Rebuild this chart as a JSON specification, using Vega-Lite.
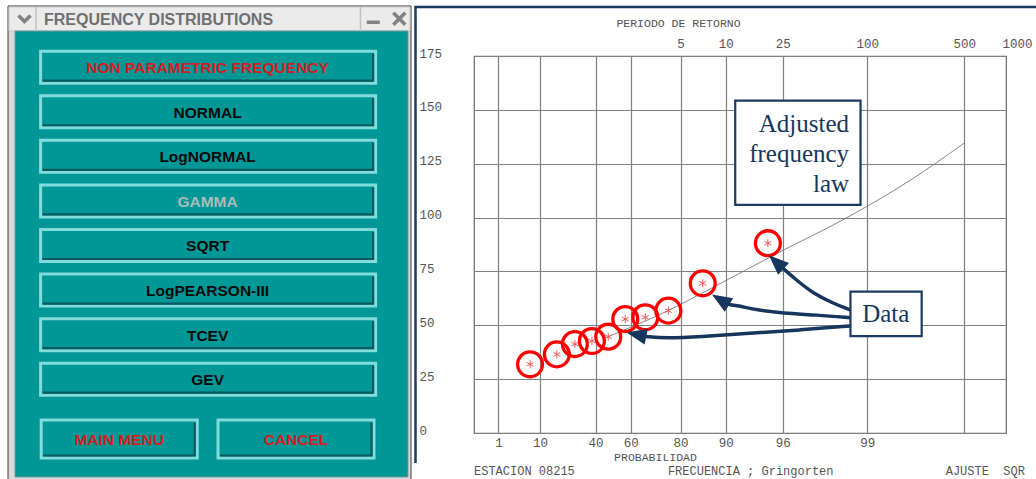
{
  "$schema": "https://vega.github.io/schema/vega-lite/v6.json",
  "width": 532,
  "height": 377,
  "autosize": {"type": "none"},
  "padding": {"left": 474, "top": 56, "right": 30, "bottom": 46},
  "background": "white",
  "config": {"view": {"stroke": "#6a6a6a", "strokeWidth": 1.2}},
  "datasets": {
    "buttons": [
      {"label": "NON PARAMETRIC FREQUENCY", "slot": 1, "column": "wide", "state": "current"},
      {"label": "NORMAL", "slot": 2, "column": "wide", "state": "enabled"},
      {"label": "LogNORMAL", "slot": 3, "column": "wide", "state": "enabled"},
      {"label": "GAMMA", "slot": 4, "column": "wide", "state": "disabled"},
      {"label": "SQRT", "slot": 5, "column": "wide", "state": "enabled"},
      {"label": "LogPEARSON-III", "slot": 6, "column": "wide", "state": "enabled"},
      {"label": "TCEV", "slot": 7, "column": "wide", "state": "enabled"},
      {"label": "GEV", "slot": 8, "column": "wide", "state": "enabled"},
      {"label": "MAIN MENU", "slot": 9, "column": "left", "state": "action"},
      {"label": "CANCEL", "slot": 9, "column": "right", "state": "action"}
    ],
    "observed": [
      {"variate": -1.001, "value": 31.9},
      {"variate": -0.556, "value": 36.5},
      {"variate": -0.256, "value": 41.3},
      {"variate": 0.027, "value": 42.7},
      {"variate": 0.298, "value": 44.7},
      {"variate": 0.581, "value": 52.9},
      {"variate": 0.914, "value": 53.7},
      {"variate": 1.297, "value": 56.8},
      {"variate": 1.868, "value": 69.5},
      {"variate": 2.951, "value": 88.1}
    ],
    "fit": [
      {"variate": 0.2, "value": 43.6},
      {"variate": 1.29, "value": 56.8},
      {"variate": 2.04, "value": 67.6},
      {"variate": 3.09, "value": 83.2},
      {"variate": 4.2, "value": 99.0},
      {"variate": 5.31, "value": 117.2},
      {"variate": 6.21, "value": 134.5}
    ],
    "arrows": [
      {"arrow": "A", "step": 0, "variate": 4.323, "value": 57.1},
      {"arrow": "A", "step": 1, "variate": 4.033, "value": 60.2},
      {"arrow": "A", "step": 2, "variate": 3.7, "value": 64.9},
      {"arrow": "A", "step": 3, "variate": 3.424, "value": 71.0},
      {"arrow": "A", "step": 4, "variate": 3.199, "value": 76.5},
      {"arrow": "B", "step": 0, "variate": 4.323, "value": 53.5},
      {"arrow": "B", "step": 1, "variate": 3.757, "value": 54.8},
      {"arrow": "B", "step": 2, "variate": 3.201, "value": 55.6},
      {"arrow": "B", "step": 3, "variate": 2.758, "value": 57.1},
      {"arrow": "B", "step": 4, "variate": 2.48, "value": 59.0},
      {"arrow": "B", "step": 5, "variate": 2.29, "value": 59.7},
      {"arrow": "C", "step": 0, "variate": 4.323, "value": 49.7},
      {"arrow": "C", "step": 1, "variate": 3.479, "value": 47.8},
      {"arrow": "C", "step": 2, "variate": 2.646, "value": 46.3},
      {"arrow": "C", "step": 3, "variate": 1.814, "value": 44.7},
      {"arrow": "C", "step": 4, "variate": 1.259, "value": 44.0},
      {"arrow": "C", "step": 5, "variate": 0.913, "value": 44.8}
    ]
  },
  "layer": [
    {
      "data": {"name": "fit"},
      "mark": {"type": "point", "opacity": 0},
      "encoding": {
        "x": {"field": "variate", "type": "quantitative", "scale": {"domain": [-1.9326, 6.9073], "nice": false, "zero": false},
          "axis": {"orient": "bottom", "values": [-1.5272, -0.834, 0.0874, 0.6717, 1.4999, 2.2504, 3.1985, 4.6001, 6.2136],
            "labelExpr": "datum.value < -1.2 ? '1' : datum.value < -0.5 ? '10' : datum.value < 0.3 ? '40' : datum.value < 1 ? '60' : datum.value < 2 ? '80' : datum.value < 3 ? '90' : datum.value < 4 ? '96' : datum.value < 5 ? '99' : ''",
            "grid": true, "gridColor": "#808080", "gridWidth": 1.2, "gridOpacity": 1, "ticks": false, "tickSize": 0, "domain": false,
            "labelFont": "Liberation Mono", "labelFontSize": 12.5, "labelColor": "#555555", "labelBaseline": "top", "labelPadding": 3.5,
            "labelFlush": false, "labelOverlap": false, "labelBound": false,
            "title": "PROBABILIDAD", "titleFont": "Liberation Mono", "titleFontSize": 11.5, "titleFontWeight": "normal", "titleColor": "#555555",
            "titleX": 181, "titleY": 24, "titleBaseline": "middle", "titleAlign": "center"}},
        "y": {"field": "value", "type": "quantitative", "scale": {"domain": [0, 175], "nice": false, "zero": false},
          "axis": {"orient": "left", "values": [0, 25, 50, 75, 100, 125, 150, 175], "grid": true, "gridColor": "#808080", "gridWidth": 1.2, "gridOpacity": 1,
            "ticks": false, "tickSize": 0, "domain": false, "labelFont": "Liberation Mono", "labelFontSize": 12.5, "labelColor": "#555555",
            "labelAlign": "left", "labelBaseline": "middle", "labelPadding": 55, "labelOffset": -3, "labelOverlap": false, "labelBound": false, "labelFlush": false, "title": null}}
      }
    },
    {
      "data": {"name": "fit"},
      "mark": {"type": "point", "opacity": 0},
      "encoding": {
        "x": {"field": "variate", "type": "quantitative", "scale": {"domain": [-1.9326, 6.9073], "nice": false, "zero": false},
          "axis": {"orient": "top", "values": [1.4999, 2.2504, 3.1985, 4.6001, 6.2136, 6.9073],
            "labelExpr": "datum.value < 2 ? '5' : datum.value < 3 ? '10' : datum.value < 4 ? '25' : datum.value < 5 ? '100' : datum.value < 6.5 ? '500' : '1000'",
            "grid": false, "ticks": false, "tickSize": 0, "domain": false,
            "labelFont": "Liberation Mono", "labelFontSize": 12.5, "labelColor": "#555555", "labelBaseline": "bottom", "labelPadding": 6,
            "labelFlush": false, "labelOverlap": false, "labelBound": false,
            "labelOffset": {"condition": {"test": "datum.value > 6.5", "value": 11}, "value": 0},
            "title": "PERIODO DE RETORNO", "titleFont": "Liberation Mono", "titleFontSize": 11.5, "titleFontWeight": "normal", "titleColor": "#555555",
            "titleX": 204, "titleY": -33, "titleBaseline": "middle", "titleAlign": "center"}},
        "y": {"field": "value", "type": "quantitative", "scale": {"domain": [0, 175], "nice": false, "zero": false}, "axis": null}
      }
    },
    {
      "layer": [
        {
          "data": {"values": [{"part": "window frame"}]},
          "mark": {"type": "point", "shape": "M-199.6,-61.2H203.4V418.8H-199.6Z", "size": 4, "filled": true, "fill": "#dadada", "stroke": "#3c3c3c", "strokeWidth": 1, "opacity": 1},
          "encoding": {
            "x": {"datum": "wide", "type": "nominal", "scale": {"type": "point", "domain": ["left", "wide", "right"], "range": [-354.8, -178], "padding": 0}, "axis": null},
            "y": {"datum": 1, "type": "quantitative", "scale": {"type": "linear", "domain": [1, 8, 9], "range": [11.2, 323.2, 383], "zero": false, "nice": false}, "axis": null}
          }
        },
        {
          "data": {"values": [{"part": "title bar"}]},
          "mark": {"type": "point", "shape": "M-198.6,-60.2H202.4V-36.2H-198.6Z", "size": 4, "filled": true, "fill": "#ebebeb", "stroke": "#c8c8c8", "strokeWidth": 1, "opacity": 1},
          "encoding": {
            "x": {"datum": "wide", "type": "nominal", "scale": {"type": "point", "domain": ["left", "wide", "right"], "range": [-354.8, -178], "padding": 0}, "axis": null},
            "y": {"datum": 1, "type": "quantitative", "scale": {"type": "linear", "domain": [1, 8, 9], "range": [11.2, 323.2, 383], "zero": false, "nice": false}, "axis": null}
          }
        },
        {
          "data": {"values": [{"part": "body"}]},
          "mark": {"type": "point", "shape": "M-192.6,-36.2H200.4V409.8H-192.6Z", "size": 4, "filled": true, "fill": "#009797", "stroke": "#7a9a9a", "strokeWidth": 1, "opacity": 1},
          "encoding": {
            "x": {"datum": "wide", "type": "nominal", "scale": {"type": "point", "domain": ["left", "wide", "right"], "range": [-354.8, -178], "padding": 0}, "axis": null},
            "y": {"datum": 1, "type": "quantitative", "scale": {"type": "linear", "domain": [1, 8, 9], "range": [11.2, 323.2, 383], "zero": false, "nice": false}, "axis": null}
          }
        },
        {
          "data": {"values": [{"part": "title separators"}]},
          "mark": {"type": "point", "shape": "M-171.6,-60.2V-36.2M152.9,-60.2V-36.2", "size": 4, "filled": false, "color": "#c2c2c2", "strokeWidth": 1.5, "opacity": 1},
          "encoding": {
            "x": {"datum": "wide", "type": "nominal", "scale": {"type": "point", "domain": ["left", "wide", "right"], "range": [-354.8, -178], "padding": 0}, "axis": null},
            "y": {"datum": 1, "type": "quantitative", "scale": {"type": "linear", "domain": [1, 8, 9], "range": [11.2, 323.2, 383], "zero": false, "nice": false}, "axis": null}
          }
        },
        {
          "data": {"values": [{"part": "title icons"}]},
          "mark": {"type": "point", "shape": "M-189.1,-51.8L-183.1,-45.8L-177.1,-51.8M159.2,-44.9H172.2M185.7,-54.4L197.7,-42.4M197.7,-54.4L185.7,-42.4", "size": 4, "filled": false, "color": "#828282", "strokeWidth": 3.6, "opacity": 1},
          "encoding": {
            "x": {"datum": "wide", "type": "nominal", "scale": {"type": "point", "domain": ["left", "wide", "right"], "range": [-354.8, -178], "padding": 0}, "axis": null},
            "y": {"datum": 1, "type": "quantitative", "scale": {"type": "linear", "domain": [1, 8, 9], "range": [11.2, 323.2, 383], "zero": false, "nice": false}, "axis": null}
          }
        },
        {
          "data": {"values": [{"part": "title"}]},
          "mark": {"type": "text", "text": "FREQUENCY DISTRIBUTIONS", "font": "Liberation Sans", "fontWeight": "bold", "fontSize": 16, "color": "#707070", "align": "left", "baseline": "alphabetic", "dx": -163.6, "dy": -42.2},
          "encoding": {
            "x": {"datum": "wide", "type": "nominal", "scale": {"type": "point", "domain": ["left", "wide", "right"], "range": [-354.8, -178], "padding": 0}, "axis": null},
            "y": {"datum": 1, "type": "quantitative", "scale": {"type": "linear", "domain": [1, 8, 9], "range": [11.2, 323.2, 383], "zero": false, "nice": false}, "axis": null}
          }
        },
        {
          "data": {"values": [{"part": "chart frame"}]},
          "mark": {"type": "point", "shape": "M207.9,395.8V-60.2H832.4", "size": 4, "filled": false, "color": "#1b3a66", "strokeWidth": 2.5, "opacity": 1},
          "encoding": {
            "x": {"datum": "wide", "type": "nominal", "scale": {"type": "point", "domain": ["left", "wide", "right"], "range": [-354.8, -178], "padding": 0}, "axis": null},
            "y": {"datum": 1, "type": "quantitative", "scale": {"type": "linear", "domain": [1, 8, 9], "range": [11.2, 323.2, 383], "zero": false, "nice": false}, "axis": null}
          }
        },
        {
          "data": {"name": "buttons"},
          "transform": [{"filter": "datum.column === 'wide'"}],
          "mark": {"type": "point", "shape": "M-167,-16H168V16H-167Z", "size": 4, "filled": true, "fill": "#009797", "stroke": "#82dcdc", "strokeWidth": 3, "opacity": 1},
          "encoding": {
            "x": {"field": "column", "type": "nominal", "scale": {"type": "point", "domain": ["left", "wide", "right"], "range": [-354.8, -178], "padding": 0}, "axis": null},
            "y": {"field": "slot", "type": "quantitative", "scale": {"type": "linear", "domain": [1, 8, 9], "range": [11.2, 323.2, 383], "zero": false, "nice": false}, "axis": null}
          }
        },
        {
          "data": {"name": "buttons"},
          "transform": [{"filter": "datum.column === 'wide'"}],
          "mark": {"type": "point", "shape": "M-165,13.5H165.5V-13.5", "size": 4, "filled": false, "color": "#045c5e", "strokeWidth": 2.2, "opacity": 1},
          "encoding": {
            "x": {"field": "column", "type": "nominal", "scale": {"type": "point", "domain": ["left", "wide", "right"], "range": [-354.8, -178], "padding": 0}, "axis": null},
            "y": {"field": "slot", "type": "quantitative", "scale": {"type": "linear", "domain": [1, 8, 9], "range": [11.2, 323.2, 383], "zero": false, "nice": false}, "axis": null}
          }
        },
        {
          "data": {"name": "buttons"},
          "transform": [{"filter": "datum.column !== 'wide'"}],
          "mark": {"type": "point", "shape": "M-78,-19H78V19H-78Z", "size": 4, "filled": true, "fill": "#009797", "stroke": "#82dcdc", "strokeWidth": 3, "opacity": 1},
          "encoding": {
            "x": {"field": "column", "type": "nominal", "scale": {"type": "point", "domain": ["left", "wide", "right"], "range": [-354.8, -178], "padding": 0}, "axis": null},
            "y": {"field": "slot", "type": "quantitative", "scale": {"type": "linear", "domain": [1, 8, 9], "range": [11.2, 323.2, 383], "zero": false, "nice": false}, "axis": null}
          }
        },
        {
          "data": {"name": "buttons"},
          "transform": [{"filter": "datum.column !== 'wide'"}],
          "mark": {"type": "point", "shape": "M-76,16.5H75.5V-16.5", "size": 4, "filled": false, "color": "#045c5e", "strokeWidth": 2.2, "opacity": 1},
          "encoding": {
            "x": {"field": "column", "type": "nominal", "scale": {"type": "point", "domain": ["left", "wide", "right"], "range": [-354.8, -178], "padding": 0}, "axis": null},
            "y": {"field": "slot", "type": "quantitative", "scale": {"type": "linear", "domain": [1, 8, 9], "range": [11.2, 323.2, 383], "zero": false, "nice": false}, "axis": null}
          }
        },
        {
          "data": {"name": "buttons"},
          "mark": {"type": "text", "font": "Liberation Sans", "fontWeight": "bold", "fontSize": 15.5, "baseline": "middle", "align": "center", "dy": 1},
          "encoding": {
            "x": {"field": "column", "type": "nominal", "scale": {"type": "point", "domain": ["left", "wide", "right"], "range": [-354.8, -178], "padding": 0}, "axis": null},
            "y": {"field": "slot", "type": "quantitative", "scale": {"type": "linear", "domain": [1, 8, 9], "range": [11.2, 323.2, 383], "zero": false, "nice": false}, "axis": null},
            "text": {"field": "label"},
            "color": {"field": "state", "type": "nominal", "scale": {"domain": ["current", "enabled", "disabled", "action"], "range": ["#d21d22", "#0a0a0a", "#a6bcbc", "#d21d22"]}, "legend": null}
          }
        }
      ]
    },
    {
      "layer": [
        {
          "data": {"name": "fit"},
          "mark": {"type": "line", "color": "#7a7a7a", "strokeWidth": 0.9, "interpolate": "monotone"},
          "encoding": {
            "x": {"field": "variate", "type": "quantitative", "scale": {"domain": [-1.9326, 6.9073], "nice": false, "zero": false}, "axis": null},
            "y": {"field": "value", "type": "quantitative", "scale": {"domain": [0, 175], "nice": false, "zero": false}, "axis": null}
          }
        },
        {
          "data": {"name": "observed"},
          "mark": {"type": "point", "shape": "circle", "size": 620, "filled": false, "color": "#ff0000", "strokeWidth": 3.3, "opacity": 1},
          "encoding": {
            "x": {"field": "variate", "type": "quantitative", "scale": {"domain": [-1.9326, 6.9073], "nice": false, "zero": false}, "axis": null},
            "y": {"field": "value", "type": "quantitative", "scale": {"domain": [0, 175], "nice": false, "zero": false}, "axis": null}
          }
        },
        {
          "data": {"name": "observed"},
          "mark": {"type": "point", "shape": "M0,-4V4M-3.5,-2L3.5,2M-3.5,2L3.5,-2", "size": 4, "filled": false, "color": "#f05a5a", "strokeWidth": 1, "opacity": 1},
          "encoding": {
            "x": {"field": "variate", "type": "quantitative", "scale": {"domain": [-1.9326, 6.9073], "nice": false, "zero": false}, "axis": null},
            "y": {"field": "value", "type": "quantitative", "scale": {"domain": [0, 175], "nice": false, "zero": false}, "axis": null}
          }
        },
        {
          "data": {"name": "arrows"},
          "mark": {"type": "line", "color": "#17365d", "strokeWidth": 3.5, "interpolate": "basis", "strokeCap": "round"},
          "encoding": {
            "x": {"field": "variate", "type": "quantitative", "scale": {"domain": [-1.9326, 6.9073], "nice": false, "zero": false}, "axis": null},
            "y": {"field": "value", "type": "quantitative", "scale": {"domain": [0, 175], "nice": false, "zero": false}, "axis": null},
            "detail": {"field": "arrow"},
            "order": {"field": "step", "type": "quantitative"}
          }
        },
        {
          "data": {"values": [{"annotation": "arrowhead A"}]},
          "mark": {"type": "point", "shape": "M0,-11L-8,9L8,9Z", "size": 4, "filled": true, "color": "#17365d", "angle": 312.7, "opacity": 1},
          "encoding": {
            "x": {"datum": 3.101, "type": "quantitative", "scale": {"domain": [-1.9326, 6.9073], "nice": false, "zero": false}, "axis": null},
            "y": {"datum": 79.0, "type": "quantitative", "scale": {"domain": [0, 175], "nice": false, "zero": false}, "axis": null}
          }
        },
        {
          "data": {"values": [{"annotation": "arrowhead B"}]},
          "mark": {"type": "point", "shape": "M0,-11L-8,9L8,9Z", "size": 4, "filled": true, "color": "#17365d", "angle": 301.9, "opacity": 1},
          "encoding": {
            "x": {"datum": 2.177, "type": "quantitative", "scale": {"domain": [-1.9326, 6.9073], "nice": false, "zero": false}, "axis": null},
            "y": {"datum": 61.6, "type": "quantitative", "scale": {"domain": [0, 175], "nice": false, "zero": false}, "axis": null}
          }
        },
        {
          "data": {"values": [{"annotation": "arrowhead C"}]},
          "mark": {"type": "point", "shape": "M0,-11L-8,9L8,9Z", "size": 4, "filled": true, "color": "#17365d", "angle": 282, "opacity": 1},
          "encoding": {
            "x": {"datum": 0.783, "type": "quantitative", "scale": {"domain": [-1.9326, 6.9073], "nice": false, "zero": false}, "axis": null},
            "y": {"datum": 45.6, "type": "quantitative", "scale": {"domain": [0, 175], "nice": false, "zero": false}, "axis": null}
          }
        },
        {
          "data": {"values": [{"annotation": "fit box"}]},
          "mark": {"type": "rect", "fill": "white", "stroke": "#1b3a66", "strokeWidth": 2.2},
          "encoding": {
            "x": {"datum": 2.408, "type": "quantitative", "scale": {"domain": [-1.9326, 6.9073], "nice": false, "zero": false}, "axis": null},
            "x2": {"datum": 4.49},
            "y": {"datum": 154.3, "type": "quantitative", "scale": {"domain": [0, 175], "nice": false, "zero": false}, "axis": null},
            "y2": {"datum": 105.9}
          }
        },
        {
          "data": {"values": [{"annotation": "fit label"}]},
          "mark": {"type": "text", "text": ["Adjusted", "frequency", "law"], "font": "Liberation Serif", "fontSize": 25, "lineHeight": 30, "align": "right", "baseline": "alphabetic", "color": "#17365d"},
          "encoding": {
            "x": {"datum": 4.3, "type": "quantitative", "scale": {"domain": [-1.9326, 6.9073], "nice": false, "zero": false}, "axis": null},
            "y": {"datum": 139.9, "type": "quantitative", "scale": {"domain": [0, 175], "nice": false, "zero": false}, "axis": null}
          }
        },
        {
          "data": {"values": [{"annotation": "data box"}]},
          "mark": {"type": "rect", "fill": "white", "stroke": "#1b3a66", "strokeWidth": 2.2},
          "encoding": {
            "x": {"datum": 4.323, "type": "quantitative", "scale": {"domain": [-1.9326, 6.9073], "nice": false, "zero": false}, "axis": null},
            "x2": {"datum": 5.506},
            "y": {"datum": 65.6, "type": "quantitative", "scale": {"domain": [0, 175], "nice": false, "zero": false}, "axis": null},
            "y2": {"datum": 45.0}
          }
        },
        {
          "data": {"values": [{"annotation": "data label"}]},
          "mark": {"type": "text", "text": "Data", "font": "Liberation Serif", "fontSize": 25, "align": "center", "baseline": "alphabetic", "color": "#17365d"},
          "encoding": {
            "x": {"datum": 4.91, "type": "quantitative", "scale": {"domain": [-1.9326, 6.9073], "nice": false, "zero": false}, "axis": null},
            "y": {"datum": 51.7, "type": "quantitative", "scale": {"domain": [0, 175], "nice": false, "zero": false}, "axis": null}
          }
        },
        {
          "data": {"values": [{"footer": "ESTACION 08215"}]},
          "mark": {"type": "text", "font": "Liberation Mono", "fontSize": 12, "align": "left", "baseline": "middle", "color": "#555555"},
          "encoding": {
            "x": {"datum": -1.9326, "type": "quantitative", "scale": {"domain": [-1.9326, 6.9073], "nice": false, "zero": false}, "axis": null},
            "y": {"datum": -17.5, "type": "quantitative", "scale": {"domain": [0, 175], "nice": false, "zero": false}, "axis": null},
            "text": {"field": "footer"}
          }
        },
        {
          "data": {"values": [{"footer": "FRECUENCIA ; Gringorten"}]},
          "mark": {"type": "text", "font": "Liberation Mono", "fontSize": 12, "align": "left", "baseline": "middle", "color": "#555555"},
          "encoding": {
            "x": {"datum": 1.289, "type": "quantitative", "scale": {"domain": [-1.9326, 6.9073], "nice": false, "zero": false}, "axis": null},
            "y": {"datum": -17.5, "type": "quantitative", "scale": {"domain": [0, 175], "nice": false, "zero": false}, "axis": null},
            "text": {"field": "footer"}
          }
        },
        {
          "data": {"values": [{"footer": "AJUSTE\u00a0\u00a0SQR"}]},
          "mark": {"type": "text", "font": "Liberation Mono", "fontSize": 12, "align": "left", "baseline": "middle", "color": "#555555"},
          "encoding": {
            "x": {"datum": 5.905, "type": "quantitative", "scale": {"domain": [-1.9326, 6.9073], "nice": false, "zero": false}, "axis": null},
            "y": {"datum": -17.5, "type": "quantitative", "scale": {"domain": [0, 175], "nice": false, "zero": false}, "axis": null},
            "text": {"field": "footer"}
          }
        }
      ]
    }
  ],
  "resolve": {"scale": {"x": "independent", "y": "independent"}}
}
